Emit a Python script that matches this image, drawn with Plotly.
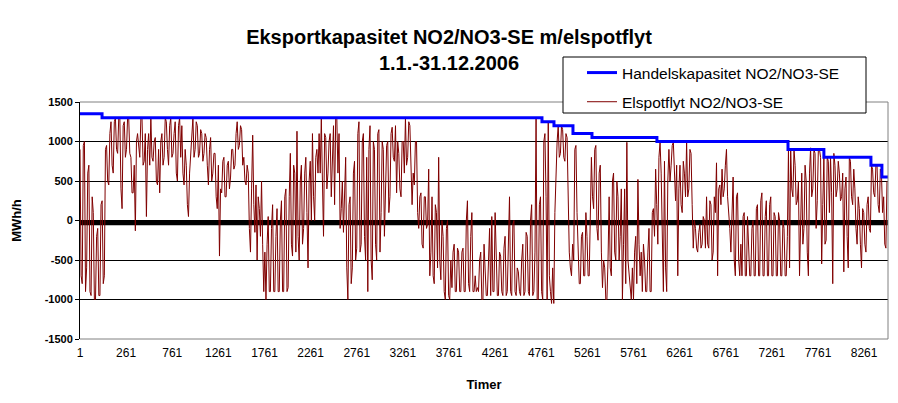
import plotly.graph_objects as go

# Elspot flow (MWh/h): one value at hour 1 of every day ...
elspot_day = [
    900, -800, 1000, -600, 700, -950, 100, -1000, -100, -950, 250, -700, 950, 450, 1250, 600,
    1300, 850, 1300, 150, 1250, 900, 1300, 800, 350, -130, 1100, 800, 1300, 750, 50, 1100,
    1300, 750, 1050, 450, 350, 1100, 800, 1250, 700, 1300, 850, 1250, 500, 1300,
    1200, 450, 700, 50, 800, 1300, 900, 1200, 850, 1100, 850, 1050, 450, 1050, 600, 850,
    150, -450, 350, 800, 300, 750, 550, 900, 700, 1250, 950, 1150, 800, 450, 600, -400,
    1080, -150, -500, 150, 500, -900, -1000, 50, -900, 200, -900, 150, -900, 250, -900, 400,
    -850, 850, -450, 600, 1130, -500, 700, -100, 800, -600, 750, 1100, 0, 900, 1100, 1300,
    -200, 1050, 600, 1100, 700, 200, 1300, 1100, 150, -150, 800, -1000, 300, -600, 750, -350,
    1250, -300, 1100, -500, -900, 1200, -750, 900, -500, 1150, 100, 900, 250, 1000,
    300, 1180, 750, 350, 850, 300, 1000, 1300, 800, 1200, 200, 450, 1000, -100, 350, -350,
    300, -50, -700, 300, -800, 100, 800, -750, -200, -1000, 0, -1000, -850, -300, -900, -400,
    -900, -350, -900, 250, -900, 100, -900, -900, -900, -400, -1000, -600, -950, -100,
    50, -900, -400, -950, -450, -950, -200, -900, 300, -950, 0, -950, -650, -950, -300, -900,
    -200, -950, 200, -900, 1300, -1000, 300, -1000, 1100, -1000, -700, -1050, -1050, 700, 1200,
    850, 1150, 750, 1050, -400, -700, -500, 950, -300, -800, -150, -700, -200, -700, 800, 150,
    950, -250, 700,
    -850, -600, -1000, 300, -700, 600, -500, 300, -200, -1000, 400, 990, -700, -1000,
    -1000, -200, 520, -700, -900, -500, -900, -100, -900, 150, 650, -300, 990, -400, 750, -900,
    900, 700, 990, 250, -700, 700, 100, 600, 990, 400, 850, -350, -100, -400, -50, -300,
    0, 300, -350, 200, -400, 100, -700, 450, 650, 400, 900, 150, -400, 550, -700, 350, -700,
    -700, 100, -700, -300, -700, 0, -700, 200, -700, 350, -700, 250, -700, 300, -700, 50, -700,
    0, -700, -100, -700, 900, 900, 300, 700, 250, -700, 600, -100, 500, -700,
    920, 400, 850, 250, 900, -550, 800, -250, 750, 800, -800, 700, 400, 600, 300, -650, 550,
    -600, 750, 200, 400, -300, 150, -600, 100, -400, 300, -150, 650, 300, 700, 100, 600, 300,
    -350,
]
# ... and one value at hour 13 of every day
elspot_half = [
    -700, 950, -900, 600, -900, 300, -1000, -200, -950, 200, -800, 900, 500, 1100, 700, 1250,
    900, 1300, 400, 1200, 800, 1300, 850, 350, 700, 1000, 900, 1300, 700, 1100, 900, 700,
    800, 1000, 500, 900, 1000, 700, 1300, 900, 1200, 800, 1100, 600, 1200, 800,
    600, 900, 200, 600, 1000, 800, 1250, 800, 1150, 750, 1100, 700, 900, 500, 850, 300,
    700, 400, 750, 300, 700, 400, 900, 650, 1100, 900, 1200, 700, 500, 700, -100, 400,
    200, 450, 300, -200, -300, -400, -300, -900, -100, -900, -200, -900, 0, -900, 300, -900,
    300, -300, 700, -400, -200, 500, -300, 600, 100, 500, 0, 300, 800, 600, 600, 500,
    1100, 400, 1000, 300, 1200, 1300, 600, -100, 500, 400, -600, 200, -800, 600, -500, 1100,
    -400, 1000, -200, 800, 900, -500, 1000, -300, 1100, -400, 1000, -200, 950, 100, 1100,
    800, 1200, 1000, 400, 1000, 600, 700, 1250, 500, 600, 1000, 100, 300, -300, 300,
    -100, 650, -400, -700, 200, -600, -500, 0, -900, -100, -950, -500, -400, -900, -350, -900,
    -400, -900, 0, -800, -200, -900, -700, -850, -500, -1000, -300, -950, -500, -950,
    -900, 100, -950, -400, -900, -350, -950, -100, -900, -50, -900, -600, -900, -500, -950, -150,
    -900, 0, -950, -400, -1000, 200, -900, 1000, 300, 1250, -900, -600, 100, 1000, 800,
    1200, 800, 1100, 400, -600, -300, 900, 100, -800, -200, -700, 100, -700, 200, 300,
    900, -100, 600, -400,
    -500, -1000, -500, -600, 500, -400, 500, -500, 400, -300, -800, -500, -900, -600,
    -400, -800, -300, -400, -300, -900, -400, -900, 100, -200, 200, 800, 600, -900, -600, 500,
    500, 950, 600, 700, 400, 200, 750, 300, 300, 900, 200, 0, -350, -150, -350, 50,
    -350, -300, 250, -500, 300, 730, 400, 200, 300, 700, 300, -100, 200, -500, 300, -500, -300,
    50, -700, 50, -700, -100, -700, 150, -700, 250, -700, 50, -700, 200, -700, 100, -700, 100,
    -700, 0, -700, -200, -600, 400, 900, 200, 500, 100, -300, 700, -400, 600,
    300, 900, -100, 900, 800, 200, -300, 800, 100, 350, 850, 300, 750, 250, 600, 400, -200,
    800, 300, 650, -100, 300, -300, 150, -300, 200, -100, 700, 350, 700, 200, 650, 100, -300,
    500,
]

# Trade capacity (step function): hour where each level starts
cap_hours = [1, 240, 5009, 5139, 5345, 5551, 6255, 7676, 8065, 8575, 8694, 8760]
cap_values = [1350, 1300, 1250, 1200, 1100, 1050, 1000, 900, 800, 700, 550, 550]

x_tickvals = [1, 501, 1001, 1501, 2001, 2501, 3001, 3501, 4001, 4501, 5001, 5501,
              6001, 6501, 7001, 7501, 8001, 8501]
x_ticktext = ["1", "261", "761", "1261", "1761", "2261", "2761", "3261", "3761", "4261",
              "4761", "5261", "5761", "6261", "6761", "7261", "7761", "8261"]
y_ticks = [-1500, -1000, -500, 0, 500, 1000, 1500]

# merge the two readings in time order
elspot_x, elspot_y = [], []
for d in range(min(len(elspot_day), len(elspot_half))):
    elspot_x += [1 + 24 * d, 13 + 24 * d]
    elspot_y += [elspot_day[d], elspot_half[d]]

FONT = "Liberation Sans, Arial, sans-serif"
NARROW = "Liberation Sans Narrow, Arial Narrow, Liberation Sans, Arial, sans-serif"

# page has an 8px body margin: figure is drawn 8px right/down of the page origin
W, H = 890, 395
L, R, T, B = 72, 10, 94, 64
PW, PH = W - L - R, H - T - B


def px_x(xf):
    return (xf - L) / PW


def px_y(yf):
    return 1 + (T - yf) / PH


fig = go.Figure()
fig.add_trace(go.Scatter(
    x=elspot_x, y=elspot_y, mode="lines", line=dict(color="#800000", width=1),
    name="Elspotflyt NO2/NO3-SE", legendgroup="b", legendrank=2))
fig.add_trace(go.Scatter(
    x=cap_hours, y=cap_values, mode="lines", line=dict(color="#0000FF", width=3, shape="hv"),
    name="Handelskapasitet NO2/NO3-SE", legendgroup="a", legendrank=1))

fig.update_layout(
    width=W, height=H,
    margin=dict(l=L, r=R, t=T, b=B, autoexpand=False),
    paper_bgcolor="white", plot_bgcolor="white",
    font=dict(family=FONT, color="black"),
    title=dict(text="<b>Eksportkapasitet NO2/NO3-SE m/elspotflyt<br>1.1.-31.12.2006</b>",
               x=441 / W, xanchor="center", y=1 - 36 / H, yanchor="top",
               font=dict(size=20, family=FONT)),
    showlegend=True,
    legend=dict(x=px_x(574), y=px_y(48), xref="paper", yref="paper",
                xanchor="left", yanchor="top",
                bgcolor="rgba(0,0,0,0)", borderwidth=0,
                font=dict(size=15.5, family=FONT), itemwidth=30,
                tracegroupgap=6),
    xaxis=dict(range=[1, 8760], tickvals=x_tickvals, ticktext=x_ticktext,
               showgrid=False, zeroline=False, showline=False, ticks="",
               tickfont=dict(size=12, family=NARROW, color="black"),
               ticklabelstandoff=5,
               title=dict(text="<b>Timer</b>", font=dict(size=13), standoff=20)),
    yaxis=dict(range=[-1500, 1500], tickvals=y_ticks,
               ticktext=["<b>%d</b>" % v for v in y_ticks],
               showgrid=True, gridcolor="black", gridwidth=1, zeroline=False,
               showline=True, linecolor="black", linewidth=1,
               ticks="outside", ticklen=4, tickcolor="black",
               tickfont=dict(size=11, family=FONT),
               title=dict(text="<b>MWh/h</b>", font=dict(size=13), standoff=20)),
)

# thick horizontal axis line near zero
fig.add_shape(type="line", xref="paper", x0=0, x1=1, yref="y", y0=-28, y1=-28,
              line=dict(color="black", width=5), layer="below")
# grey plot-area border (top, right, bottom)
for x0, x1, y0, y1 in [(0, 1, 1, 1), (0, 1, 0, 0), (1, 1, 0, 1)]:
    fig.add_shape(type="line", xref="paper", yref="paper", x0=x0, x1=x1, y0=y0, y1=y1,
                  line=dict(color="#808080", width=1))
# legend frame
fig.add_shape(type="rect", xref="paper", yref="paper",
              x0=px_x(555), x1=px_x(858), y0=px_y(105), y1=px_y(49),
              line=dict(color="black", width=1), fillcolor="white", layer="above")

fig.write_html("out.html")
